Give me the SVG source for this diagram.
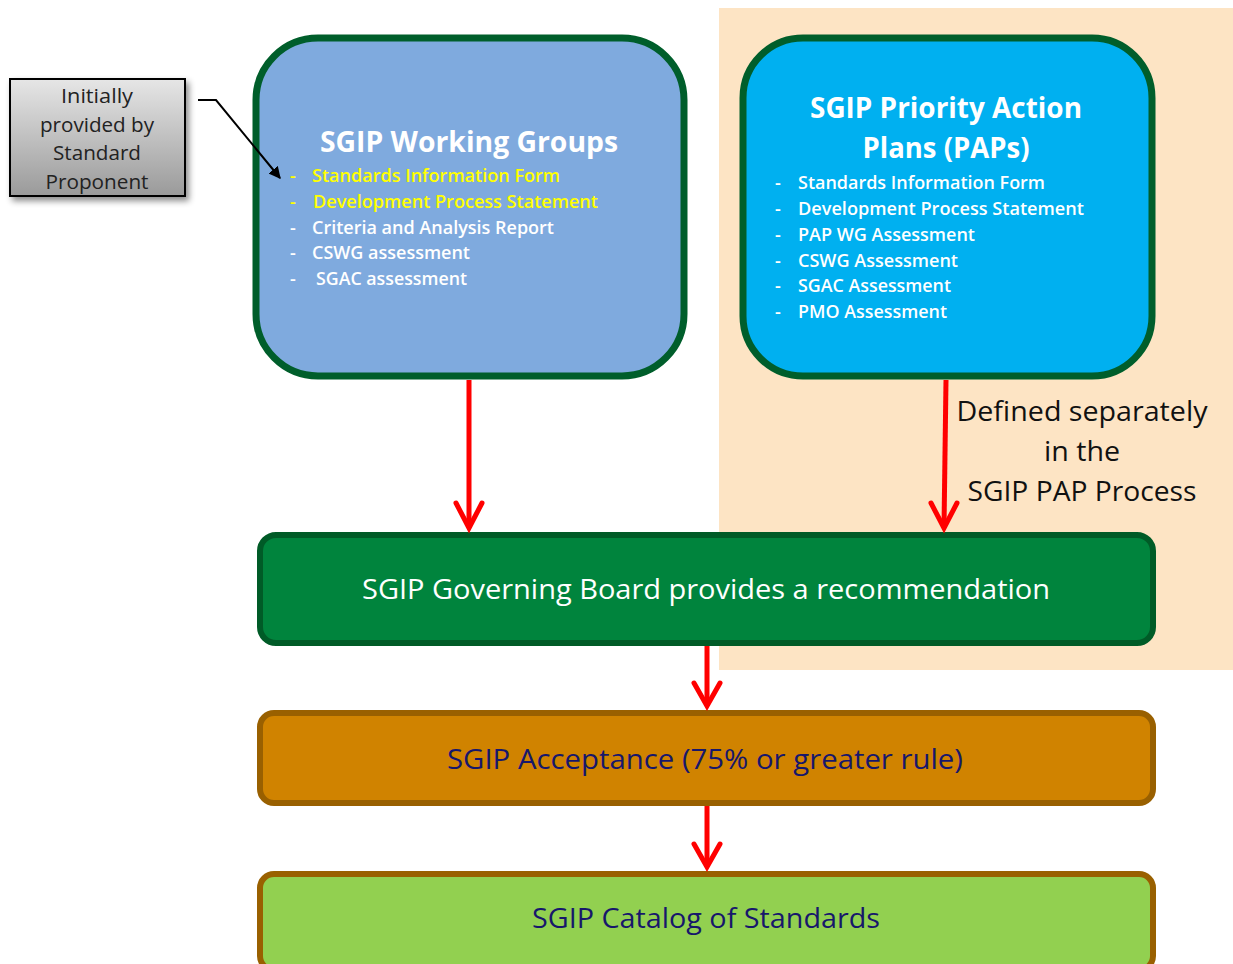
<svg xmlns="http://www.w3.org/2000/svg" width="1233" height="964" viewBox="0 0 1233 964">
<style>
.t{font-family:"Open Sans","Noto Sans","Liberation Sans",sans-serif;}
.title{font-size:29px;font-weight:bold;fill:#fff;text-anchor:middle;}
.item{font-size:18px;fill:#fff;font-weight:600;}
.yl{fill:#FFFF00;}
.main{font-size:28px;text-anchor:middle;}
.red{stroke:#FF0000;stroke-width:5;fill:none;}
.head{stroke:#FF0000;stroke-width:5;fill:none;stroke-linecap:round;stroke-linejoin:miter;}
</style>
<defs>
<linearGradient id="gray" x1="0" y1="0" x2="0" y2="1">
<stop offset="0" stop-color="#E6E6E6"/>
<stop offset="1" stop-color="#9A9A9A"/>
</linearGradient>
<filter id="sh" x="-20%" y="-20%" width="150%" height="160%">
<feDropShadow dx="3" dy="4" stdDeviation="3" flood-color="#000" flood-opacity="0.45"/>
</filter>
<marker id="blk" viewBox="0 0 10 10" refX="9" refY="5" markerWidth="6" markerHeight="6" orient="auto">
<path d="M0,0 L10,5 L0,10 Z" fill="#000"/>
</marker>
</defs>
<rect width="1233" height="964" fill="#fff"/>
<rect x="719" y="8" width="514" height="662" fill="#FDE4C4"/>

<g id="note">
<rect x="10" y="79" width="175" height="117" fill="url(#gray)" stroke="#000" stroke-width="2" filter="url(#sh)"/>
<g class="t" font-size="20" fill="#222" text-anchor="middle">
<text x="97" y="103" textLength="72" lengthAdjust="spacingAndGlyphs">Initially</text>
<text x="97" y="132" textLength="114" lengthAdjust="spacingAndGlyphs">provided by</text>
<text x="97" y="160" textLength="88" lengthAdjust="spacingAndGlyphs">Standard</text>
<text x="97" y="189" textLength="103" lengthAdjust="spacingAndGlyphs">Proponent</text>
</g>
</g>

<g id="working-groups">
<rect x="256" y="38" width="428" height="338" rx="62" fill="#7FAADE" stroke="#005E2B" stroke-width="7"/>
<g class="t">
<text class="title" x="469" y="152" textLength="298" lengthAdjust="spacingAndGlyphs">SGIP Working Groups</text>
<text class="item yl" x="290" y="182">-</text>
<text class="item yl" x="312" y="182" textLength="248" lengthAdjust="spacingAndGlyphs">Standards Information Form</text>
<text class="item yl" x="290" y="208">-</text>
<text class="item yl" x="313" y="208" textLength="285" lengthAdjust="spacingAndGlyphs">Development Process Statement</text>
<text class="item" x="290" y="234">-</text>
<text class="item" x="312" y="234" textLength="242" lengthAdjust="spacingAndGlyphs">Criteria and Analysis Report</text>
<text class="item" x="290" y="259">-</text>
<text class="item" x="312" y="259" textLength="158" lengthAdjust="spacingAndGlyphs">CSWG assessment</text>
<text class="item" x="290" y="285">-</text>
<text class="item" x="316" y="285" textLength="151" lengthAdjust="spacingAndGlyphs">SGAC assessment</text>
</g>
</g>

<g id="paps">
<rect x="743" y="38" width="409" height="338" rx="60" fill="#00B0F0" stroke="#005E2B" stroke-width="7"/>
<g class="t">
<text class="title" x="946" y="118" textLength="272" lengthAdjust="spacingAndGlyphs">SGIP Priority Action</text>
<text class="title" x="946" y="158" textLength="167" lengthAdjust="spacingAndGlyphs">Plans (PAPs)</text>
<text class="item" x="775" y="189">-</text>
<text class="item" x="798" y="189" textLength="247" lengthAdjust="spacingAndGlyphs">Standards Information Form</text>
<text class="item" x="775" y="215">-</text>
<text class="item" x="798" y="215" textLength="286" lengthAdjust="spacingAndGlyphs">Development Process Statement</text>
<text class="item" x="775" y="241">-</text>
<text class="item" x="798" y="241" textLength="177" lengthAdjust="spacingAndGlyphs">PAP WG Assessment</text>
<text class="item" x="775" y="267">-</text>
<text class="item" x="798" y="267" textLength="160" lengthAdjust="spacingAndGlyphs">CSWG Assessment</text>
<text class="item" x="775" y="292">-</text>
<text class="item" x="798" y="292" textLength="153" lengthAdjust="spacingAndGlyphs">SGAC Assessment</text>
<text class="item" x="775" y="318">-</text>
<text class="item" x="798" y="318" textLength="149" lengthAdjust="spacingAndGlyphs">PMO Assessment</text>
</g>
</g>

<g id="pap-note" class="t" font-size="27" fill="#111" text-anchor="middle">
<text x="1082" y="421" textLength="251" lengthAdjust="spacingAndGlyphs">Defined separately</text>
<text x="1082" y="461" textLength="76" lengthAdjust="spacingAndGlyphs">in the</text>
<text x="1082" y="501" textLength="229" lengthAdjust="spacingAndGlyphs">SGIP PAP Process</text>
</g>

<g id="governing-board">
<rect x="260" y="535" width="893" height="108" rx="16" fill="#00843D" stroke="#005B27" stroke-width="6"/>
<text class="t main" x="706" y="599" fill="#fff" textLength="688" lengthAdjust="spacingAndGlyphs">SGIP Governing Board provides a recommendation</text>
</g>

<g id="acceptance">
<rect x="260" y="713" width="893" height="90" rx="14" fill="#D08300" stroke="#996000" stroke-width="6"/>
<text class="t main" x="705" y="769" fill="#17176B" textLength="516" lengthAdjust="spacingAndGlyphs">SGIP Acceptance (75% or greater rule)</text>
</g>

<g id="catalog">
<rect x="260" y="874" width="893" height="96" rx="14" fill="#92D050" stroke="#996000" stroke-width="6"/>
<text class="t main" x="706" y="928" fill="#17176B" textLength="348" lengthAdjust="spacingAndGlyphs">SGIP Catalog of Standards</text>
</g>

<g id="connectors">
<line class="red" x1="469" y1="380" x2="469" y2="528"/>
<path class="head" d="M456,503 L469,528 L482,503"/>
<line class="red" x1="946" y1="380" x2="944" y2="528"/>
<path class="head" d="M931,503 L944,528 L957,503"/>
<line class="red" x1="707" y1="646" x2="707" y2="706"/>
<path class="head" d="M694,683 L707,706 L720,683"/>
<line class="red" x1="707" y1="806" x2="707" y2="867"/>
<path class="head" d="M694,844 L707,867 L720,844"/>
<path d="M198,100 L216,100 L280,178" fill="none" stroke="#000" stroke-width="2" marker-end="url(#blk)"/>
</g>
</svg>
